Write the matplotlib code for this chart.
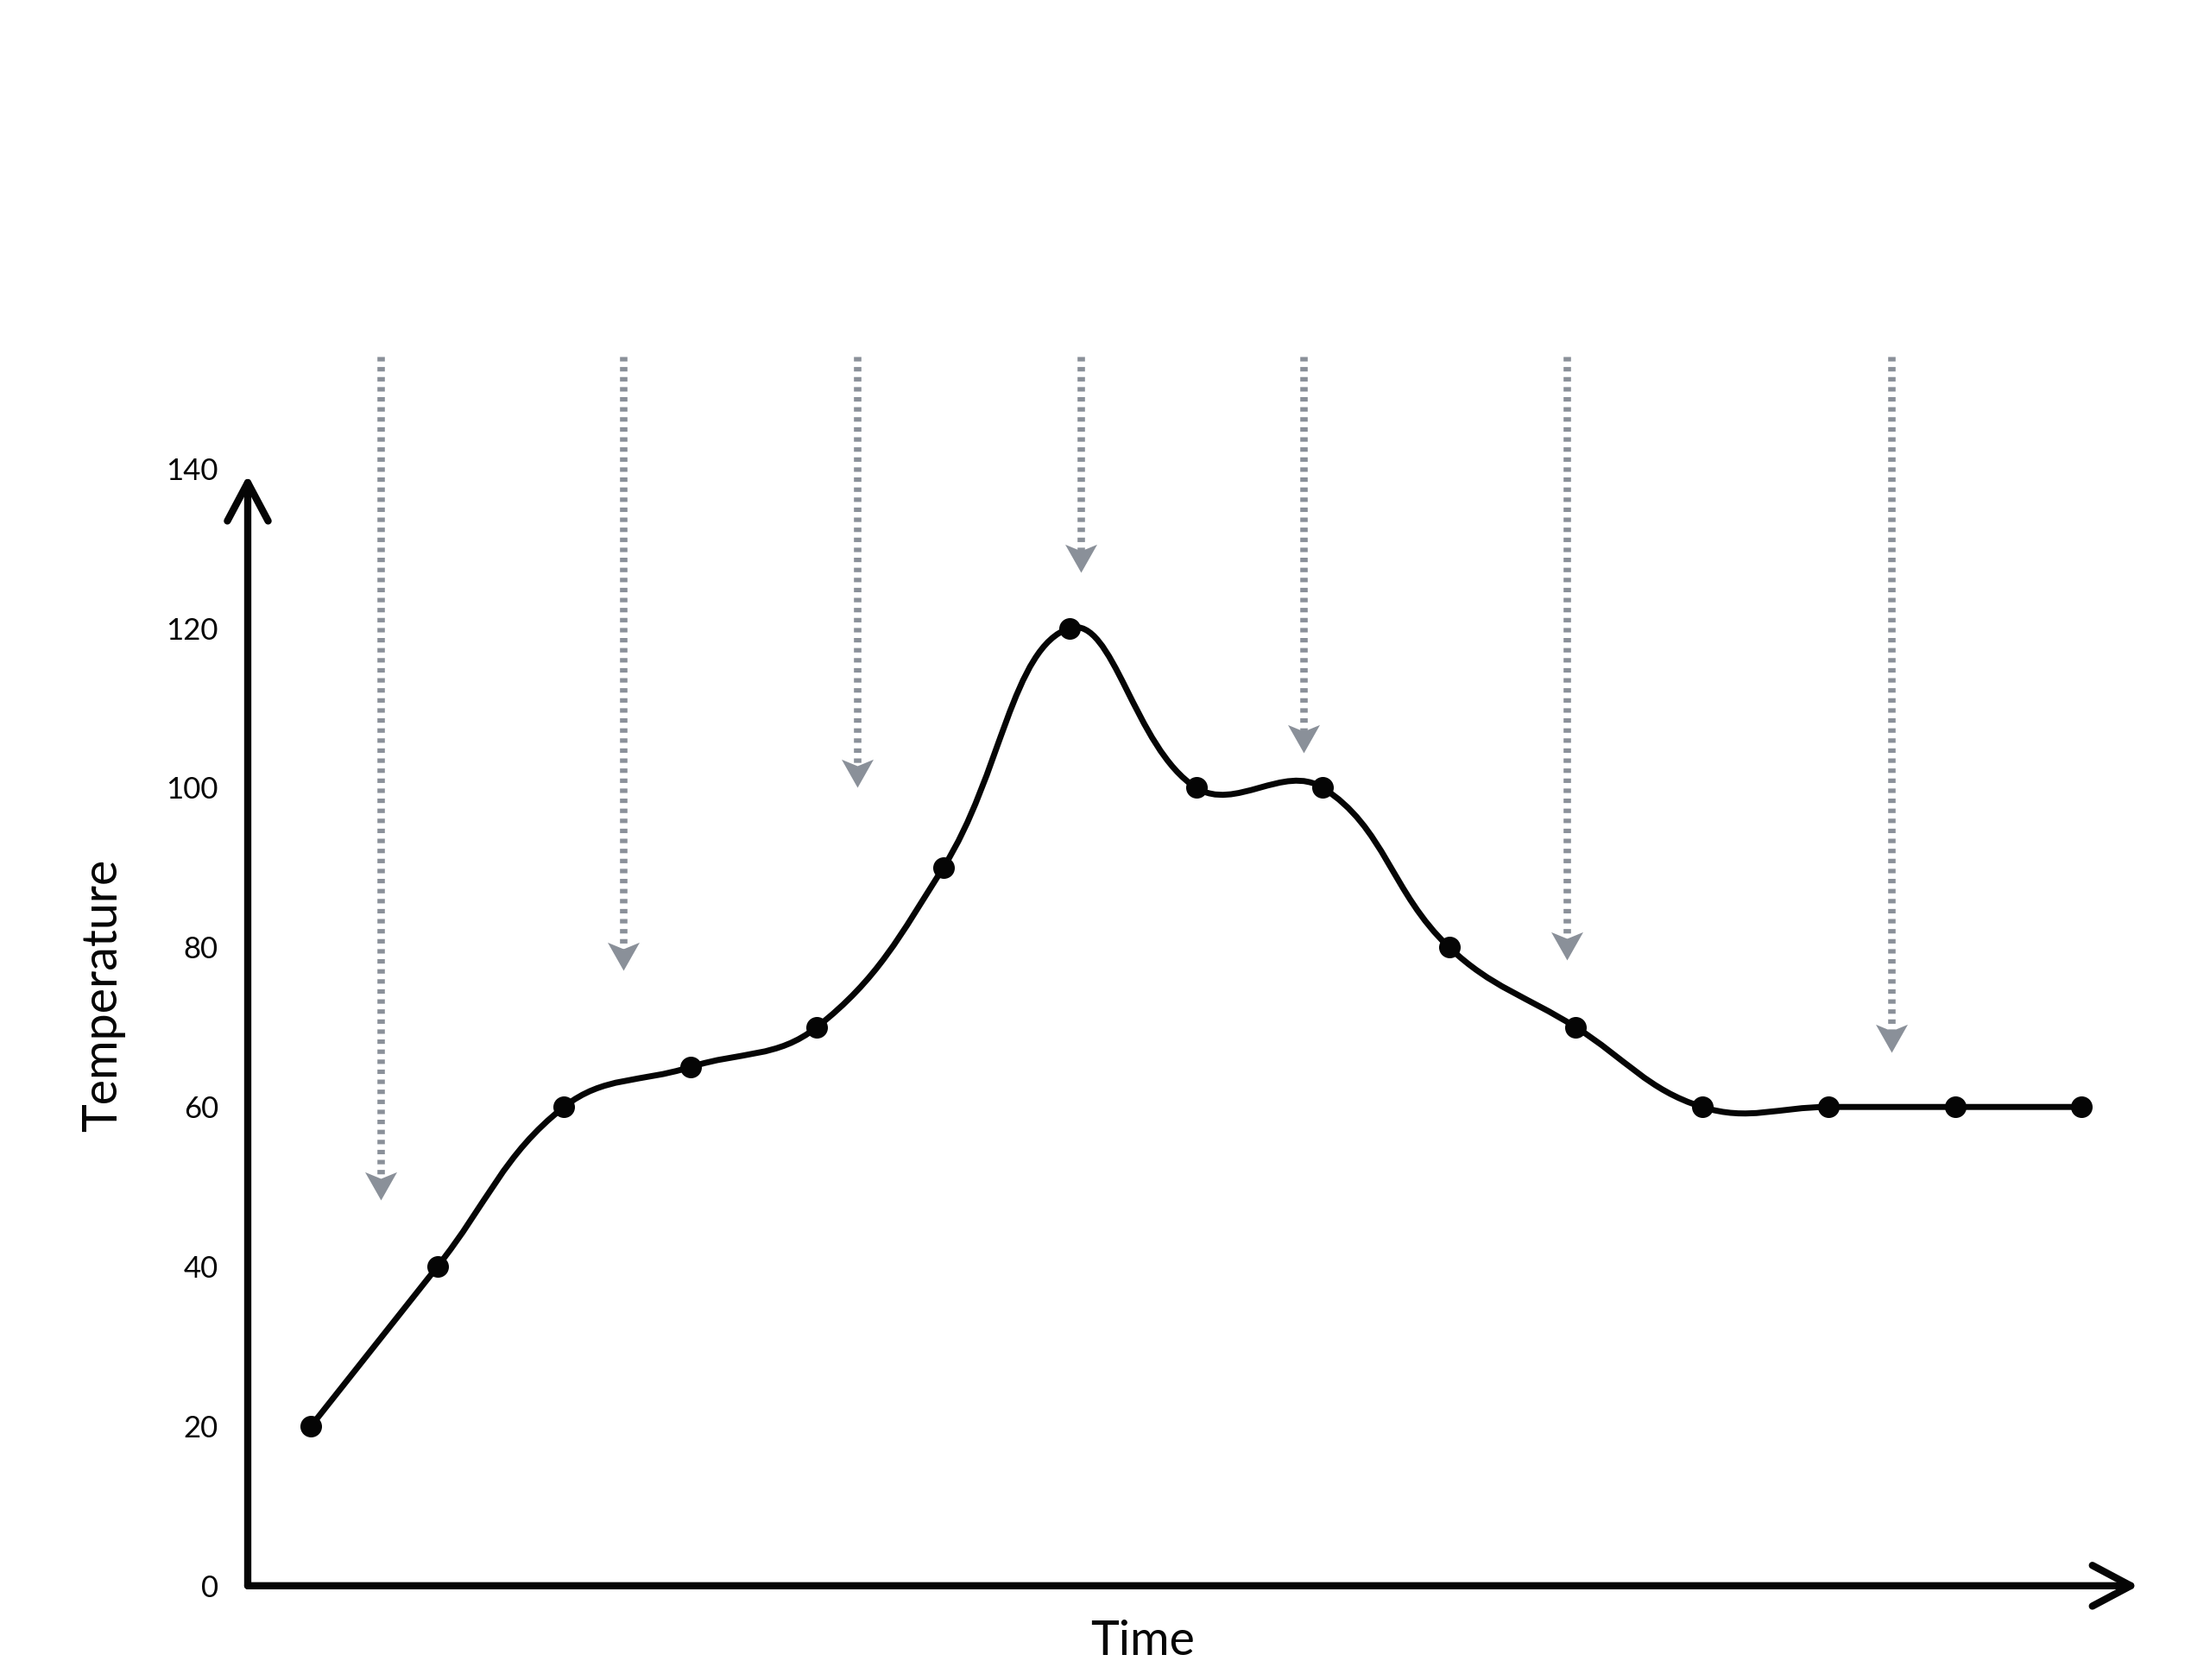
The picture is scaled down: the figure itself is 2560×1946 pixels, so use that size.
import numpy as np
import matplotlib
matplotlib.use("Agg")
import matplotlib.pyplot as plt
from matplotlib.path import Path
from matplotlib.patches import PathPatch

plt.rcParams["font.family"] = ["Lato", "DejaVu Sans"]

# data
temperature = [20, 40, 60, 65, 70, 90, 120, 100, 100, 80, 70, 60, 60, 60, 60]
time_idx = list(range(len(temperature)))
yticks = [0, 20, 40, 60, 80, 100, 120, 140]

# dotted arrows coming down from the top
arrow_x = [0.55, 2.47, 4.32, 6.09, 7.85, 9.93, 12.5]
arrow_tip = [48.3, 77.1, 100.0, 127.0, 104.4, 78.4, 66.8]
arrow_top = 154.0

GREY = "#8a9099"
INK = "#050505"

fig = plt.figure(figsize=(25.6, 19.46), dpi=100)
ax = fig.add_axes([0.1121, 0.0561, 0.8555, 0.665])
ax.set_xlim(-0.5, 14.45)
ax.set_ylim(0, 140)
for s in ax.spines.values():
    s.set_visible(False)
ax.set_xticks([])
ax.set_yticks(yticks)
ax.tick_params(axis="y", length=0, pad=24.5, labelsize=25, labelcolor=INK)

# axes drawn as arrows
arrow_kw = dict(arrowstyle="->,head_length=32,head_width=17", lw=6,
                color=INK, shrinkA=0, shrinkB=0, mutation_scale=1,
                capstyle="round")
ax.annotate("", xy=(-0.5, 139.2), xytext=(-0.5, 0), arrowprops=arrow_kw,
            annotation_clip=False)
ax.annotate("", xy=(14.45, 0), xytext=(-0.5, 0), arrowprops=arrow_kw,
            annotation_clip=False)

# smooth line, cardinal spline (tension 0.4) worked out in pixel space
pts = ax.transData.transform(np.column_stack([time_idx, temperature]))
t = 0.4
n = len(pts)
cp_prev = np.zeros_like(pts)
cp_next = np.zeros_like(pts)
for i in range(n):
    prev = pts[max(i - 1, 0)]
    cur = pts[i]
    nxt = pts[min(i + 1, n - 1)]
    d01 = np.hypot(*(cur - prev))
    d12 = np.hypot(*(nxt - cur))
    tot = d01 + d12
    s01 = d01 / tot if tot else 0
    s12 = d12 / tot if tot else 0
    cp_prev[i] = cur - t * s01 * (nxt - prev)
    cp_next[i] = cur + t * s12 * (nxt - prev)

verts = [pts[0]]
codes = [Path.MOVETO]
for i in range(n - 1):
    verts += [cp_next[i], cp_prev[i + 1], pts[i + 1]]
    codes += [Path.CURVE4] * 3
inv = ax.transData.inverted()
curve = Path(inv.transform(np.array(verts)), codes)
ax.add_patch(PathPatch(curve, fill=False, lw=5, edgecolor=INK,
                       capstyle="round", joinstyle="round", zorder=3))
ax.plot(time_idx, temperature, "o", ms=17, color=INK, zorder=4, clip_on=False)

# dotted grey arrows with a stealth head
head = Path([(0, 0), (17, 30), (0, 23), (-17, 30), (0, 0)],
            [Path.MOVETO, Path.LINETO, Path.LINETO, Path.LINETO, Path.CLOSEPOLY])
notch = 23 / 9.24
for xa, tip in zip(arrow_x, arrow_tip):
    ax.plot([xa, xa], [arrow_top, tip + notch], color=GREY, lw=6.2,
            dashes=(0.6, 0.75), dash_capstyle="butt", clip_on=False, zorder=2)
    ax.plot([xa], [tip], marker=head, ms=47, color=GREY, mew=0,
            clip_on=False, zorder=2)

# axis titles
ax.text(-0.0763, 0.5286, "Temperature", transform=ax.transAxes, rotation=90,
        ha="center", va="center", fontsize=40, color=INK)
ax.text(0.4735, -0.0496, "Time", transform=ax.transAxes,
        ha="center", va="center", fontsize=40, color=INK)

fig.savefig("out.png", dpi=100, facecolor="white")
